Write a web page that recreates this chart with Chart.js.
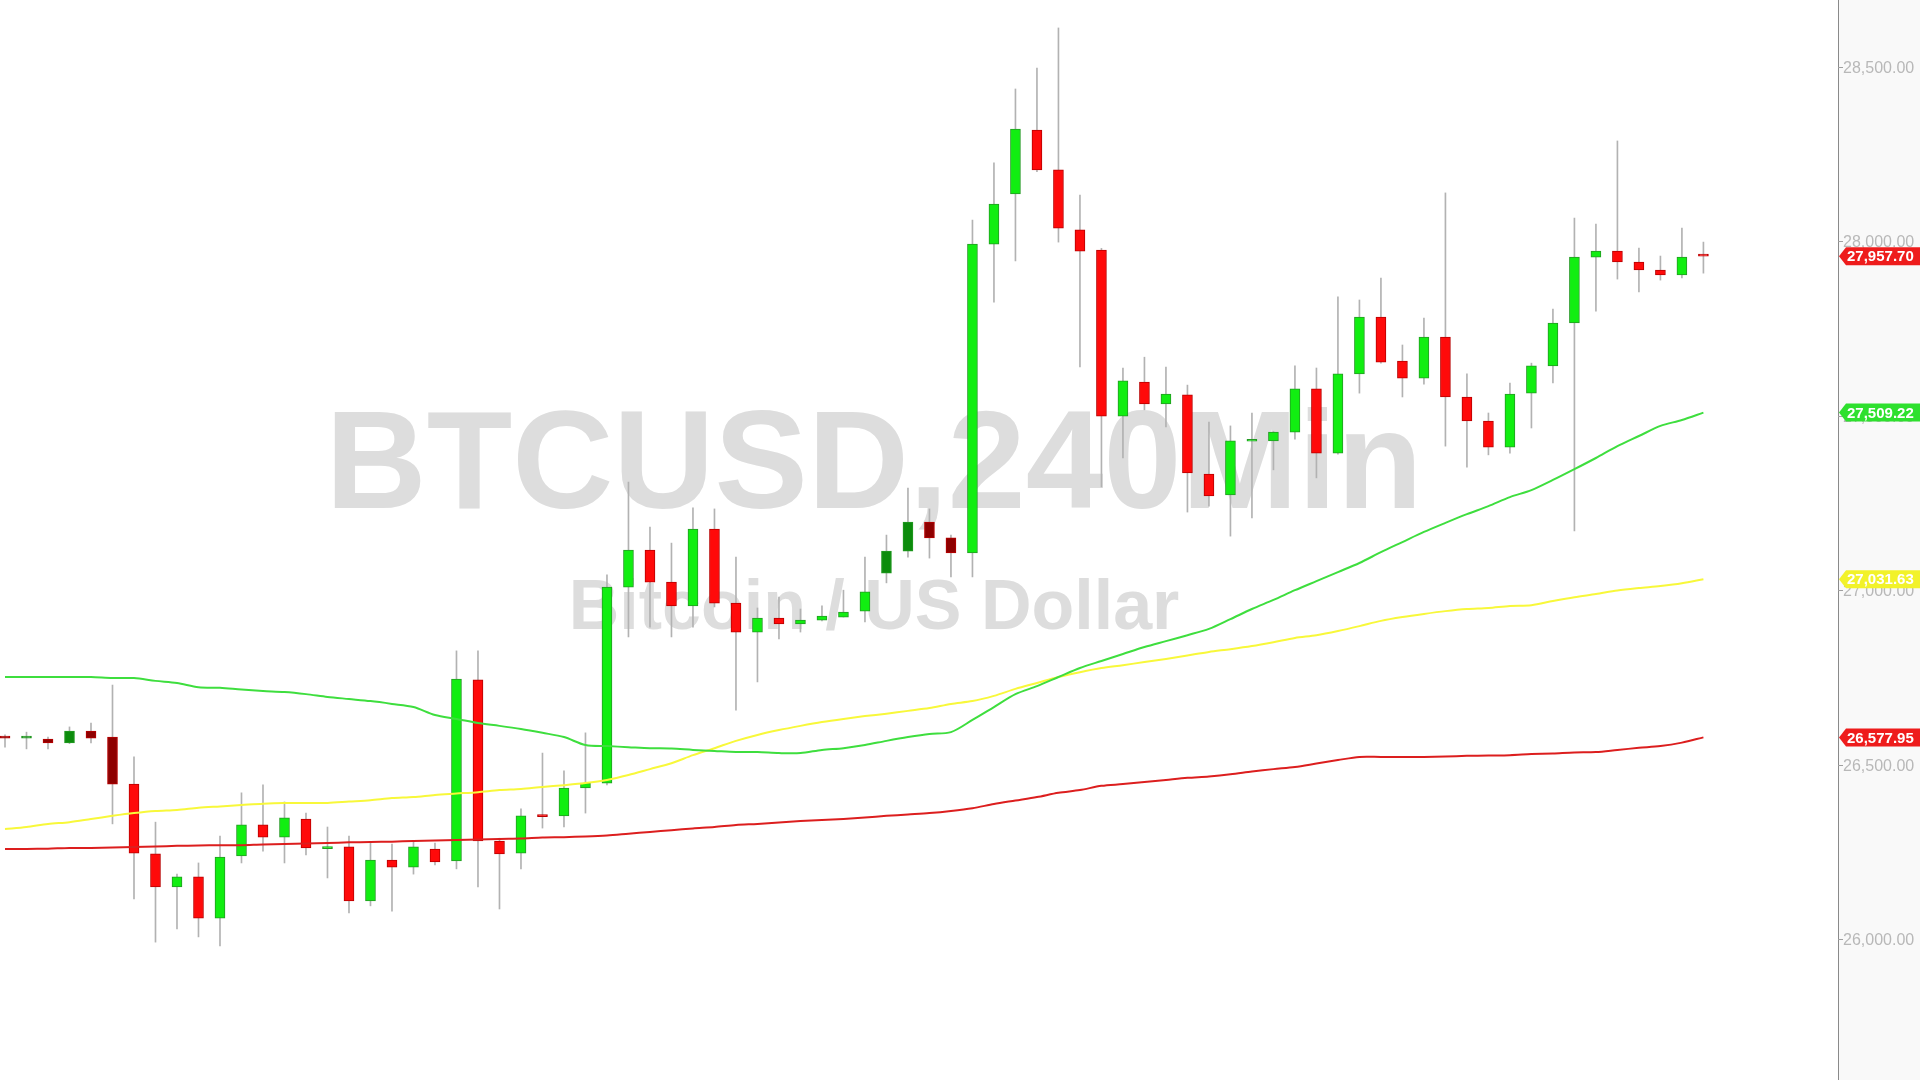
<!DOCTYPE html>
<html lang="en">
<head>
  <meta charset="UTF-8">
  <title>BTCUSD 240Min</title>
  <style>
    html, body { margin: 0; padding: 0; background: #fff; }
    #wrap { width: 1920px; height: 1080px; }
  </style>
</head>
<body>
  <div id="wrap"><canvas id="chart"></canvas></div>
  <script src="https://cdn.jsdelivr.net/npm/chart.js@4/dist/chart.umd.min.js"></script>
  <script>
    // candles, 4h bars
    const opens = [26582, 26576, 26573, 26562, 26596, 26579, 26444, 26244, 26149, 26178,
      26060, 26238, 26327, 26292, 26344, 26259, 26264, 26109, 26226, 26206,
      26258, 26224, 26743, 26281, 26246, 26354, 26353, 26433, 26447, 27009,
      27115, 27023, 26955, 27175, 26963, 26880, 26920, 26903, 26914, 26923,
      26940, 27049, 27112, 27195, 27150, 27107, 27992, 28136, 28319, 28205,
      28033, 27975, 27499, 27597, 27534, 27560, 27333, 27273, 27427, 27428,
      27453, 27577, 27393, 27620, 27783, 27657, 27608, 27726, 27554, 27485,
      27410, 27565, 27643, 27766, 27955, 27972, 27941, 27918, 27904, 27960]
    const highs = [26585, 26593, 26579, 26608, 26619, 26728, 26522, 26335, 26186, 26218,
      26295, 26419, 26442, 26393, 26361, 26321, 26295, 26278, 26272, 26278,
      26275, 26826, 26826, 26289, 26373, 26533, 26482, 26591, 27044, 27310,
      27181, 27135, 27236, 27233, 27095, 26949, 26980, 26946, 26955, 27000,
      27095, 27158, 27293, 27233, 27158, 28061, 28225, 28437, 28497, 28612,
      28133, 27980, 27637, 27668, 27640, 27588, 27482, 27471, 27508, 27455,
      27643, 27637, 27841, 27832, 27895, 27703, 27780, 28139, 27620, 27508,
      27594, 27651, 27806, 28067, 28050, 28288, 27981, 27958, 28038, 27998]
    const lows = [26550, 26545, 26545, 26560, 26562, 26330, 26115, 25991, 26029, 26006,
      25980, 26218, 26252, 26218, 26241, 26175, 26075, 26095, 26080, 26186,
      26212, 26201, 26149, 26086, 26201, 26318, 26321, 26361, 26442, 26866,
      26894, 26866, 26894, 26952, 26656, 26737, 26860, 26880, 26912, 26923,
      26909, 27021, 27095, 27092, 27038, 27038, 27826, 27944, 28200, 27998,
      27640, 27296, 27379, 27517, 27468, 27224, 27241, 27155, 27207, 27345,
      27433, 27322, 27390, 27565, 27651, 27554, 27591, 27413, 27353, 27388,
      27393, 27465, 27594, 27170, 27800, 27892, 27855, 27889, 27895, 27909]
    const closes = [26576, 26578, 26562, 26596, 26576, 26444, 26246, 26149, 26178, 26060,
      26235, 26327, 26292, 26347, 26261, 26262, 26109, 26226, 26206, 26264,
      26221, 26745, 26281, 26244, 26353, 26351, 26433, 26447, 27009, 27115,
      27023, 26955, 27175, 26963, 26880, 26920, 26903, 26914, 26926, 26937,
      26995, 27112, 27195, 27150, 27107, 27992, 28107, 28322, 28205, 28038,
      27972, 27499, 27600, 27534, 27562, 27336, 27270, 27428, 27429, 27453,
      27577, 27393, 27620, 27783, 27654, 27608, 27726, 27554, 27485, 27410,
      27562, 27643, 27766, 27955, 27972, 27941, 27918, 27904, 27955, 27957.70]

    // moving averages
    const maGreen = [26751, 26751, 26751, 26751, 26751, 26748, 26748, 26740, 26734, 26722,
      26720, 26715, 26711, 26708, 26702, 26694, 26688, 26682, 26674, 26665,
      26642, 26631, 26619, 26611, 26602, 26591, 26579, 26556, 26553, 26550,
      26547, 26546, 26542, 26539, 26536, 26536, 26533, 26533, 26542, 26547,
      26556, 26568, 26579, 26588, 26593, 26628, 26665, 26702, 26725, 26751,
      26777, 26797, 26817, 26837, 26854, 26871, 26889, 26917, 26946, 26972,
      27000, 27026, 27052, 27078, 27109, 27138, 27167, 27193, 27218, 27241,
      27267, 27287, 27316, 27347, 27379, 27413, 27442, 27471, 27488, 27509.22]
    const maYellow = [26315, 26321, 26330, 26335, 26344, 26353, 26361, 26367, 26370, 26376,
      26380, 26384, 26388, 26390, 26390, 26390, 26394, 26398, 26404, 26407,
      26413, 26417, 26421, 26427, 26430, 26436, 26441, 26447, 26456, 26470,
      26487, 26504, 26527, 26547, 26568, 26585, 26599, 26611, 26622, 26631,
      26639, 26646, 26654, 26662, 26674, 26682, 26697, 26717, 26734, 26751,
      26765, 26777, 26785, 26794, 26803, 26813, 26823, 26831, 26840, 26851,
      26863, 26871, 26883, 26897, 26912, 26923, 26932, 26940, 26946, 26949,
      26955, 26957, 26969, 26980, 26989, 26999, 27006, 27012, 27020, 27031.63]
    const maRed = [26258, 26258, 26259, 26261, 26261, 26262, 26264, 26265, 26267, 26268,
      26269, 26269, 26271, 26272, 26274, 26275, 26277, 26278, 26279, 26281,
      26282, 26284, 26285, 26287, 26288, 26291, 26292, 26294, 26297, 26302,
      26307, 26312, 26317, 26321, 26327, 26330, 26334, 26338, 26341, 26344,
      26348, 26353, 26357, 26361, 26367, 26375, 26387, 26397, 26407, 26419,
      26427, 26439, 26444, 26450, 26456, 26462, 26466, 26472, 26480, 26487,
      26493, 26503, 26513, 26522, 26522, 26522, 26522, 26523, 26525, 26526,
      26527, 26530, 26532, 26535, 26536, 26542, 26548, 26553, 26563, 26577.95]

    const priceTicks = [26000, 26500, 27000, 27500, 28000, 28500]
    const tagValues = [closes[closes.length - 1], maGreen[maGreen.length - 1],
      maYellow[maYellow.length - 1], maRed[maRed.length - 1]]
    const tagColors = ['#ee1c1c', '#2ee02e', '#f2f22a', '#ee1c1c']

    // bars drawn in the darker shade
    const darkBars = [0, 1, 2, 3, 4, 5, 41, 42, 43, 44]

    const title = 'BTCUSD,240Min'
    const subtitle = 'Bitcoin / US Dollar'

    const fmt = v => v.toLocaleString('en-US', { minimumFractionDigits: 2, maximumFractionDigits: 2 })

    const idx = opens.map((_, i) => i)
    const up = idx.map(i => closes[i] >= opens[i])
    const bodyFill = idx.map(i => {
      const dark = darkBars.includes(i)
      if (up[i]) return dark ? '#0c8c0c' : '#11ee11'
      return dark ? '#8e0000' : '#ff0a0a'
    })
    const bodyLine = idx.map(i => up[i] ? '#249a24' : '#b80000')

    const watermark = {
      id: 'watermark',
      beforeDatasetsDraw(chart) {
        const c = chart.ctx
        c.save()
        c.fillStyle = '#dddddd'
        c.textAlign = 'center'
        c.textBaseline = 'alphabetic'
        c.font = 'bold 140px "Liberation Sans", Arial, sans-serif'
        c.fillText(title, 874, 508)
        c.font = 'bold 70px "Liberation Sans", Arial, sans-serif'
        c.fillText(subtitle, 874, 629)
        c.restore()
      }
    }

    const priceAxis = {
      id: 'priceAxis',
      beforeDraw(chart) {
        const c = chart.ctx
        const a = chart.chartArea
        c.save()
        c.fillStyle = '#f9f9f9'
        c.fillRect(a.right, 0, chart.width - a.right, chart.height)
        c.restore()
      },
      afterDraw(chart) {
        const c = chart.ctx
        const a = chart.chartArea
        const y = chart.scales.y
        c.save()
        c.strokeStyle = '#8a8a8a'
        c.lineWidth = 1
        c.beginPath()
        c.moveTo(a.right + 0.5, 0)
        c.lineTo(a.right + 0.5, chart.height)
        c.stroke()

        c.font = '16px "Liberation Sans", Arial, sans-serif'
        c.textBaseline = 'middle'
        c.fillStyle = '#b8b8b8'
        c.strokeStyle = '#a0a0a0'
        priceTicks.forEach(v => {
          const py = Math.round(y.getPixelForValue(v)) + 0.5
          c.beginPath()
          c.moveTo(a.right, py)
          c.lineTo(a.right + 5, py)
          c.stroke()
          c.fillText(fmt(v), a.right + 5, py + 1)
        })

        c.font = 'bold 15px "Liberation Sans", Arial, sans-serif'
        tagValues.forEach((v, k) => {
          const py = y.getPixelForValue(v)
          const x0 = a.right + 1
          c.fillStyle = tagColors[k]
          c.beginPath()
          c.moveTo(x0, py)
          c.lineTo(x0 + 7, py - 9)
          c.lineTo(chart.width, py - 9)
          c.lineTo(chart.width, py + 9)
          c.lineTo(x0 + 7, py + 9)
          c.closePath()
          c.fill()
          c.fillStyle = '#ffffff'
          c.fillText(fmt(v), x0 + 8, py + 1)
        })
        c.restore()
      }
    }

    const line = (data, color) => ({
      type: 'line',
      data: data.map((v, i) => ({ x: i, y: v })),
      borderColor: color,
      borderWidth: 2,
      pointRadius: 0,
      tension: 0.3,
      order: 1
    })

    new Chart(document.getElementById('chart'), {
      type: 'bar',
      data: {
        datasets: [
          line(maGreen, '#3ede3e'),
          line(maYellow, '#f8f83a'),
          line(maRed, '#dc1e1e'),
          {
            // bodies
            data: idx.map(i => ({ x: i, y: [opens[i], closes[i]] })),
            backgroundColor: bodyFill,
            borderColor: bodyLine,
            borderWidth: 1,
            borderSkipped: false,
            barThickness: 10,
            minBarLength: 2,
            grouped: false,
            order: 2
          },
          {
            // wicks
            data: idx.map(i => ({ x: i, y: [lows[i], highs[i]] })),
            backgroundColor: '#b2b2b2',
            borderWidth: 0,
            barThickness: 1,
            grouped: false,
            order: 3
          }
        ]
      },
      options: {
        responsive: true,
        maintainAspectRatio: false,
        animation: false,
        layout: { padding: { left: 0, top: 0, bottom: 0, right: 82 } },
        plugins: { legend: { display: false }, tooltip: { enabled: false } },
        scales: {
          x: { type: 'linear', min: -0.2326, max: 85.26, offset: false, display: false },
          y: { type: 'linear', min: 25595.7, max: 28692.1, display: false }
        }
      },
      plugins: [watermark, priceAxis]
    })
  </script>
</body>
</html>
